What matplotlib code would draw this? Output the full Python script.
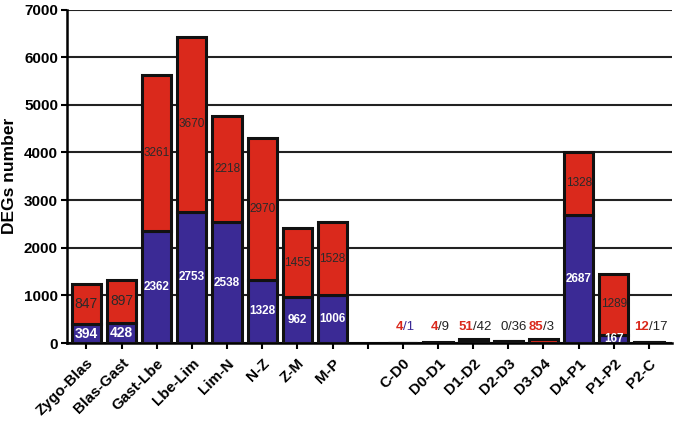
import matplotlib.pyplot as plt
import numpy as np

plt.rcParams['font.family'] = ['Liberation Sans', 'DejaVu Sans']

# data
cats = ['Zygo-Blas', 'Blas-Gast', 'Gast-Lbe', 'Lbe-Lim', 'Lim-N', 'N-Z', 'Z-M', 'M-P', '',
        'C-D0', 'D0-D1', 'D1-D2', 'D2-D3', 'D3-D4', 'D4-P1', 'P1-P2', 'P2-C']
blue = [394, 428, 2362, 2753, 2538, 1328, 962, 1006, 0, 1, 9, 42, 36, 3, 2687, 167, 17]
red = [847, 897, 3261, 3670, 2218, 2970, 1455, 1528, 0, 4, 4, 51, 0, 85, 1328, 1289, 12]
# small bars get a "red/other" label above the bar
small = ['C-D0', 'D0-D1', 'D1-D2', 'D2-D3', 'D3-D4', 'P2-C']

c_red = '#DA291C'
c_blue = '#3B2A95'


def main():
    fig = plt.figure(figsize=(6.75, 4.23), dpi=100)
    ax = fig.add_axes([0.0993, 0.189, 0.896, 0.7885])

    x = np.arange(len(cats))
    idx = [i for i, c in enumerate(cats) if c != '']
    b = np.array(blue)
    r = np.array(red)

    ax.bar(x[idx], b[idx], width=0.83, color=c_blue, edgecolor='#111111', lw=2.2, zorder=3)
    ax.bar(x[idx], r[idx], bottom=b[idx], width=0.83, color=c_red, edgecolor='#111111', lw=2.2, zorder=3)

    for i in idx:
        if cats[i] in small:
            col2 = c_blue if cats[i] == 'C-D0' else '#222222'
            ax.annotate(str(red[i]), (x[i], 340), ha='right', va='center', color=c_red if red[i] else '#222222',
                        fontsize=9.5, fontweight='bold' if red[i] else 'normal',
                        xytext=(0, 0), textcoords='offset points', zorder=5)
            ax.annotate('/' + str(blue[i]), (x[i], 340), ha='left', va='center', color=col2,
                        fontsize=9.5, xytext=(0, 0), textcoords='offset points', zorder=5)
        else:
            fs = 10 if i < 2 else 8.5
            ax.text(x[i], blue[i] / 2, str(blue[i]), ha='center', va='center', color='white',
                    fontsize=fs, fontweight='bold', zorder=5)
            ax.text(x[i], blue[i] + red[i] / 2, str(red[i]), ha='center', va='center', color='#2a2a2a',
                    fontsize=fs, zorder=5)

    ax.set_xlim(-0.55, 16.65)
    ax.set_ylim(0, 7000)
    ax.set_yticks(range(0, 7001, 1000))
    ax.set_xticks(x)
    ax.set_xticklabels(cats, rotation=45, ha='right', rotation_mode='anchor', fontsize=11, fontweight='bold')
    for lab in ax.get_yticklabels():
        lab.set_fontweight('bold')
        lab.set_fontsize(11)
    ax.set_ylabel('DEGs number', fontsize=12.5, fontweight='bold', labelpad=5)

    ax.grid(axis='y', color='#222222', lw=1.5, zorder=0)
    ax.set_axisbelow(True)
    ax.spines['top'].set_visible(False)
    ax.spines['right'].set_visible(False)
    ax.spines['left'].set_linewidth(1.8)
    ax.spines['bottom'].set_linewidth(1.8)
    ax.tick_params(axis='both', width=1.5, length=4.5)
    ax.tick_params(axis='x', pad=5)
    ax.tick_params(axis='y', pad=2)

    fig.savefig('out.png', dpi=100)


if __name__ == "__main__":
    main()
